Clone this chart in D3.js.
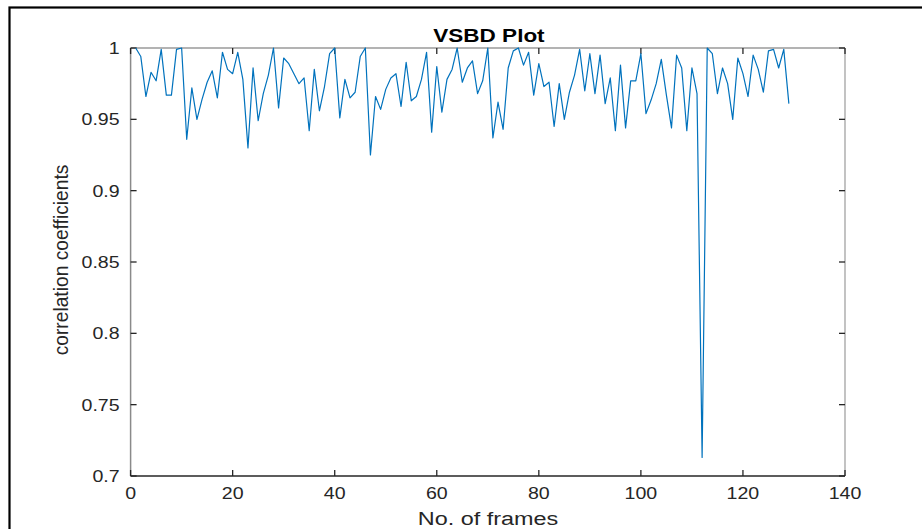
<!DOCTYPE html>
<meta charset="utf-8" />
<script src="https://d3js.org/d3.v7.js"></script>
<style>
  body { margin: 0; background: white; }
  text { font-family: "Liberation Sans", Arial, sans-serif; fill: #262626; }
</style>
<div id="my_dataviz_div"></div>
<script>
  // correlation coefficient per frame (frames 1..129)
  const frames = d3.range(1, 130);
  const coeffs = [
    1.0, 0.994, 0.966, 0.983, 0.977, 0.999, 0.967, 0.967, 0.999, 1.0,
    0.936, 0.972, 0.95, 0.964, 0.976, 0.984, 0.965, 0.997, 0.985, 0.982,
    0.997, 0.978, 0.93, 0.986, 0.949, 0.968, 0.981, 1.0, 0.958, 0.993,
    0.989, 0.982, 0.975, 0.979, 0.942, 0.985, 0.956, 0.973, 0.996, 1.0,
    0.951, 0.978, 0.965, 0.969, 0.994, 1.0, 0.925, 0.966, 0.957, 0.971,
    0.979, 0.982, 0.959, 0.99, 0.963, 0.966, 0.978, 0.997, 0.941, 0.987,
    0.955, 0.978, 0.985, 1.0, 0.976, 0.986, 0.991, 0.968, 0.977, 1.0,
    0.937, 0.962, 0.943, 0.986, 0.998, 1.0, 0.988, 0.997, 0.967, 0.989,
    0.973, 0.976, 0.945, 0.975, 0.95, 0.969, 0.981, 0.999, 0.97, 0.996,
    0.968, 0.995, 0.961, 0.979, 0.942, 0.988, 0.944, 0.977, 0.977, 0.996,
    0.954, 0.9635, 0.975, 0.992, 0.967, 0.944, 0.995, 0.986, 0.942, 0.986,
    0.968, 0.713, 1.0, 0.996, 0.968, 0.986, 0.975, 0.95, 0.993, 0.982,
    0.966, 0.995, 0.985, 0.969, 0.998, 0.999, 0.986, 0.999, 0.961
  ];
  const xTicks = [0, 20, 40, 60, 80, 100, 120, 140];
  const yTicks = [0.7, 0.75, 0.8, 0.85, 0.9, 0.95, 1];

  const width = 922;
  const height = 529;
  const plotL = 130.6, plotR = 845, plotT = 48, plotB = 476;

  const svg = d3
    .select("#my_dataviz_div")
    .append("svg")
    .attr("width", width)
    .attr("height", height);

  // figure frame
  svg.append("rect")
    .attr("x", 9.5).attr("y", 7.5)
    .attr("width", 940).attr("height", 560)
    .attr("fill", "none")
    .attr("stroke", "black")
    .attr("stroke-width", 2.2);

  const x = d3.scaleLinear().domain([0, 140]).range([plotL, plotR]);
  const y = d3.scaleLinear().domain([0.7, 1]).range([plotB, plotT]);

  // box (top/right/left lighter)
  svg.append("line").attr("x1", plotL).attr("x2", plotR).attr("y1", plotT).attr("y2", plotT)
    .attr("stroke", "#9a9a9a").attr("stroke-width", 1.5);
  svg.append("line").attr("x1", plotR).attr("x2", plotR).attr("y1", plotT).attr("y2", plotB)
    .attr("stroke", "#9a9a9a").attr("stroke-width", 1.2);
  svg.append("line").attr("x1", plotL).attr("x2", plotL).attr("y1", plotT).attr("y2", plotB)
    .attr("stroke", "#8a8a8a").attr("stroke-width", 1.5);
  svg.append("line").attr("x1", plotL).attr("x2", plotR).attr("y1", plotB).attr("y2", plotB)
    .attr("stroke", "#262626").attr("stroke-width", 1.3);

  // ticks, inward on all sides
  const tk = svg.append("g").attr("stroke", "#262626").attr("stroke-width", 1.3);
  xTicks.forEach(function (t) {
    tk.append("line").attr("x1", x(t)).attr("x2", x(t)).attr("y1", plotB).attr("y2", plotB - 6);
    tk.append("line").attr("x1", x(t)).attr("x2", x(t)).attr("y1", plotT).attr("y2", plotT + 6);
  });
  yTicks.forEach(function (t) {
    tk.append("line").attr("x1", plotL).attr("x2", plotL + 6).attr("y1", y(t)).attr("y2", y(t));
    tk.append("line").attr("x1", plotR).attr("x2", plotR - 6).attr("y1", y(t)).attr("y2", y(t));
  });

  function stretch(sel, k) {
    sel.each(function () {
      const w = this.getComputedTextLength();
      d3.select(this).attr("textLength", w * k).attr("lengthAdjust", "spacingAndGlyphs");
    });
  }

  svg.append("g").selectAll("text")
    .data(xTicks).enter().append("text")
    .attr("x", d => x(d)).attr("y", 499)
    .attr("text-anchor", "middle")
    .style("font-size", "17px")
    .text(d => d)
    .call(stretch, 1.15);

  svg.append("g").selectAll("text")
    .data(yTicks).enter().append("text")
    .attr("x", plotL - 11).attr("y", d => y(d) + 6)
    .attr("text-anchor", "end")
    .style("font-size", "17px")
    .text(d => d)
    .call(stretch, 1.15);

  // data line
  const line = d3.line()
    .x((d, i) => x(frames[i]))
    .y(d => y(d));
  svg.append("path")
    .datum(coeffs)
    .attr("d", line)
    .attr("fill", "none")
    .attr("stroke", "#0072BD")
    .attr("stroke-width", 1.2)
    .attr("stroke-linejoin", "round");

  // title and labels
  svg.append("text")
    .attr("x", 489).attr("y", 42)
    .attr("text-anchor", "middle")
    .style("font-size", "18px").style("font-weight", "bold")
    .style("fill", "black")
    .text("VSBD Plot")
    .call(stretch, 1.25);

  svg.append("text")
    .attr("x", 488).attr("y", 525)
    .attr("text-anchor", "middle")
    .style("font-size", "18px")
    .text("No. of frames")
    .call(stretch, 1.3);

  svg.append("text")
    .attr("transform", "translate(68,260) rotate(-90)")
    .attr("text-anchor", "middle")
    .style("font-size", "20px")
    .text("correlation coefficients")
    .call(stretch, 0.96);
</script>
